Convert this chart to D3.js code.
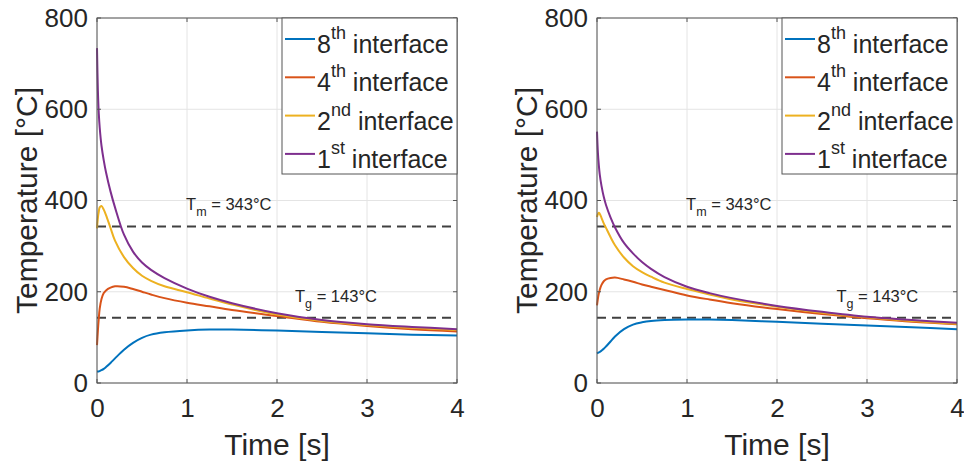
<!DOCTYPE html>
<html>
<head>
<meta charset="utf-8">
<script src="https://cdn.jsdelivr.net/npm/d3@7"></script>
<style>
body { margin: 0; background: #fff; }
text { font-family: "Liberation Sans", Arial, Helvetica, sans-serif; fill: #262626; }
</style>
</head>
<body>
<div class="chart"></div>
<script>
// time samples [s] shared by every curve
var time = [0, 0.01, 0.02, 0.03, 0.05, 0.075, 0.1, 0.15, 0.2, 0.3, 0.4, 0.5, 0.6, 0.75, 1, 1.25, 1.5, 2, 2.5, 3, 3.5, 4];

// left panel, temperatures [°C]
var leftEighth = [25, 25, 25.5, 26, 28, 31, 35, 44, 54, 73, 88, 99, 106, 111, 115, 117, 117, 115, 112, 109, 106, 104];
var leftFourth = [83, 115, 142, 163, 184, 197, 203, 209, 212, 211, 206, 200, 194, 186, 176, 168, 160, 147, 134, 125, 118, 113];
var leftSecond = [339, 362, 376, 385, 388, 380, 368, 340, 312, 276, 252, 235, 224, 212, 199, 185, 172, 150, 136, 127, 121, 116];
var leftFirst = [734, 640, 590, 560, 520, 488, 462, 420, 385, 325, 288, 264, 248, 230, 207, 189, 175, 153, 138, 129, 123, 118];

// right panel
var rightEighth = [65, 66, 67, 68, 71, 75, 80, 91, 102, 118, 128, 133, 136, 138, 139, 139, 138, 134, 130, 126, 122, 118];
var rightFourth = [170, 185, 196, 204, 215, 223, 227, 230, 231, 227, 222, 216, 211, 204, 192, 183, 175, 162, 151, 142, 134, 129];
var rightSecond = [364, 370, 373, 371, 362, 350, 340, 320, 302, 275, 256, 243, 233, 220, 206, 194, 183, 167, 154, 144, 136, 130];
var rightFirst = [551, 505, 478, 458, 432, 408, 390, 363, 341, 307, 284, 265, 250, 232, 211, 197, 186, 169, 156, 145, 138, 132];

var seriesNum = ["8", "4", "2", "1"];
var seriesSup = ["th", "th", "nd", "st"];
var colors = ["#0072BD", "#D95319", "#EDB120", "#7E2F8E"];

var thresholds = [343, 143];
var thresholdSub = ["m", "g"];

var xTicks = [0, 1, 2, 3, 4];
var yTicks = [0, 200, 400, 600, 800];

var margin = { top: 18, left: 97 },
    width = 360,
    height = 365;

var svg = d3.select(".chart").append("svg")
    .attr("width", 964)
    .attr("height", 464);

drawPanel(0, [leftEighth, leftFourth, leftSecond, leftFirst], [[0.99, 379], [2.2, 178]]);
drawPanel(500, [rightEighth, rightFourth, rightSecond, rightFirst], [[0.99, 379], [2.66, 178]]);

function drawPanel(offset, series, labelPos) {
    var x = d3.scaleLinear().domain([0, 4]).range([0, width]);
    var y = d3.scaleLinear().domain([0, 800]).range([height, 0]);

    var g = svg.append("g")
        .attr("transform", "translate(" + (offset + margin.left) + "," + margin.top + ")");

    // grid
    g.selectAll(".gx").data(xTicks).enter().append("line")
        .attr("x1", d => x(d)).attr("x2", d => x(d))
        .attr("y1", 0).attr("y2", height)
        .attr("stroke", "#e4e4e4").attr("stroke-width", 1);
    g.selectAll(".gy").data(yTicks).enter().append("line")
        .attr("x1", 0).attr("x2", width)
        .attr("y1", d => y(d)).attr("y2", d => y(d))
        .attr("stroke", "#e4e4e4").attr("stroke-width", 1);

    // threshold dashed lines
    g.selectAll(".thr").data(thresholds).enter().append("line")
        .attr("x1", 0).attr("x2", width)
        .attr("y1", d => y(d)).attr("y2", d => y(d))
        .attr("stroke", "#404040")
        .attr("stroke-width", 2)
        .attr("stroke-dasharray", "9,6");

    // curves
    var line = d3.line()
        .x((d, i) => x(time[i]))
        .y(d => y(d))
        .curve(d3.curveCatmullRom.alpha(0.5));

    g.selectAll(".curve").data(series).enter().append("path")
        .attr("d", line)
        .attr("fill", "none")
        .attr("stroke", (d, i) => colors[i])
        .attr("stroke-width", 2);

    // threshold labels
    thresholds.forEach((v, i) => {
        var t = g.append("text")
            .attr("x", x(labelPos[i][0]))
            .attr("y", y(labelPos[i][1]))
            .style("font-size", "16.5px");
        t.append("tspan").text("T");
        t.append("tspan").attr("dy", 6).style("font-size", "12.5px").text(thresholdSub[i]);
        t.append("tspan").attr("dy", -6).text(" = " + v + "°C");
    });

    // axes
    var xAxis = g.append("g")
        .attr("transform", "translate(0," + height + ")")
        .call(d3.axisBottom(x).tickValues(xTicks).tickFormat(d3.format("d")).tickSize(0).tickPadding(16));
    var yAxis = g.append("g")
        .call(d3.axisLeft(y).tickValues(yTicks).tickFormat(d3.format("d")).tickSize(0).tickPadding(9));
    [xAxis, yAxis].forEach(a => {
        a.select(".domain").remove();
        a.selectAll("text")
            .style("font-size", "26px")
            .style("font-family", "'Liberation Sans', Arial, sans-serif")
            .attr("fill", "#262626");
    });

    // inner tick marks on all four sides
    var tk = 4;
    xTicks.forEach(d => {
        g.append("line").attr("x1", x(d)).attr("x2", x(d)).attr("y1", height).attr("y2", height - tk).attr("stroke", "#555");
        g.append("line").attr("x1", x(d)).attr("x2", x(d)).attr("y1", 0).attr("y2", tk).attr("stroke", "#555");
    });
    yTicks.forEach(d => {
        g.append("line").attr("x1", 0).attr("x2", tk).attr("y1", y(d)).attr("y2", y(d)).attr("stroke", "#555");
        g.append("line").attr("x1", width).attr("x2", width - tk).attr("y1", y(d)).attr("y2", y(d)).attr("stroke", "#555");
    });

    // box
    g.append("rect")
        .attr("x", 0).attr("y", 0)
        .attr("width", width).attr("height", height)
        .attr("fill", "none")
        .attr("stroke", "#555")
        .attr("stroke-width", 1);

    // axis labels
    g.append("text")
        .attr("x", width / 2)
        .attr("y", 437)
        .attr("text-anchor", "middle")
        .style("font-size", "30px")
        .text("Time [s]");
    g.append("text")
        .attr("transform", "translate(-60," + (height / 2) + ") rotate(-90)")
        .attr("text-anchor", "middle")
        .style("font-size", "30px")
        .text("Temperature [°C]");

    // legend
    var lw = 175, lh = 156;
    var leg = g.append("g").attr("transform", "translate(" + (width - lw) + ",0)");
    leg.append("rect")
        .attr("width", lw).attr("height", lh)
        .attr("fill", "#fff")
        .attr("stroke", "#555")
        .attr("stroke-width", 1);
    seriesNum.forEach((n, i) => {
        var by = 35 + i * 38.3;
        leg.append("line")
            .attr("x1", 3).attr("x2", 33)
            .attr("y1", by - 14).attr("y2", by - 14)
            .attr("stroke", colors[i])
            .attr("stroke-width", 2);
        var t = leg.append("text")
            .attr("x", 35)
            .attr("y", by)
            .style("font-size", "25px");
        t.append("tspan").text(n);
        t.append("tspan").attr("dy", -14).style("font-size", "18px").text(seriesSup[i]);
        t.append("tspan").attr("dy", 14).text(" interface");
    });
}
</script>
</body>
</html>
